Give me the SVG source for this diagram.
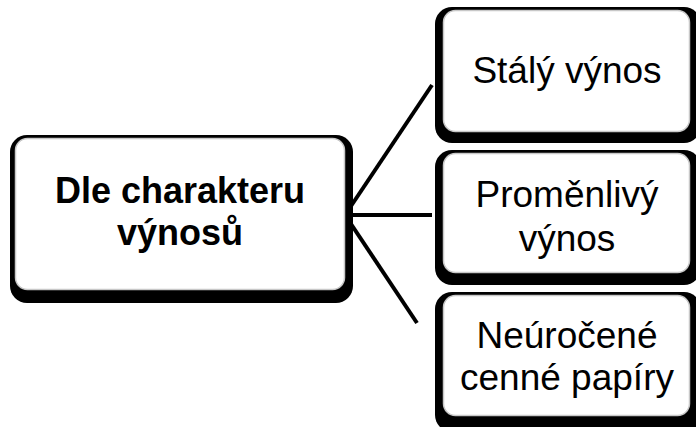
<svg xmlns="http://www.w3.org/2000/svg" width="696" height="427" viewBox="0 0 696 427">
<style>
.outer{fill:#000}
.inner{fill:#fff;stroke:#c8c8c8;stroke-width:1.5}
.conn{stroke:#000;stroke-width:4;fill:none;stroke-linecap:butt}
text{font-family:"Liberation Sans",Arial,sans-serif;fill:#000;text-anchor:middle}
.b{font-weight:bold;font-size:36px}
.r{font-size:37px}
</style>
<rect width="696" height="427" fill="#fff"/>
<g id="connectors">
<line class="conn" x1="345" y1="215" x2="432" y2="85"/>
<line class="conn" x1="345" y1="215" x2="432" y2="215"/>
<line class="conn" x1="345" y1="215" x2="417" y2="323"/>
</g>
<g id="root">
<rect class="outer" x="10" y="135" width="343" height="168" rx="17"/>
<rect class="inner" x="15.5" y="138.5" width="329" height="151" rx="12"/>
<text class="b" x="180" y="203">Dle charakteru</text>
<text class="b" x="180" y="245">výnosů</text>
</g>
<g id="n1">
<rect class="outer" x="435" y="7" width="266" height="136" rx="17"/>
<rect class="inner" x="443.5" y="10.5" width="246" height="121" rx="12"/>
<text class="r" x="567" y="83">Stálý výnos</text>
</g>
<g id="n2">
<rect class="outer" x="435" y="150" width="266" height="135" rx="17"/>
<rect class="inner" x="443.5" y="153.5" width="246" height="119" rx="12"/>
<text class="r" x="567" y="207">Proměnlivý</text>
<text class="r" x="567" y="251">výnos</text>
</g>
<g id="n3">
<rect class="outer" x="435" y="292" width="266" height="140" rx="17"/>
<rect class="inner" x="443.5" y="295.5" width="246" height="120" rx="12"/>
<text class="r" x="567" y="348">Neúročené</text>
<text class="r" x="567" y="390">cenné papíry</text>
</g>
</svg>
